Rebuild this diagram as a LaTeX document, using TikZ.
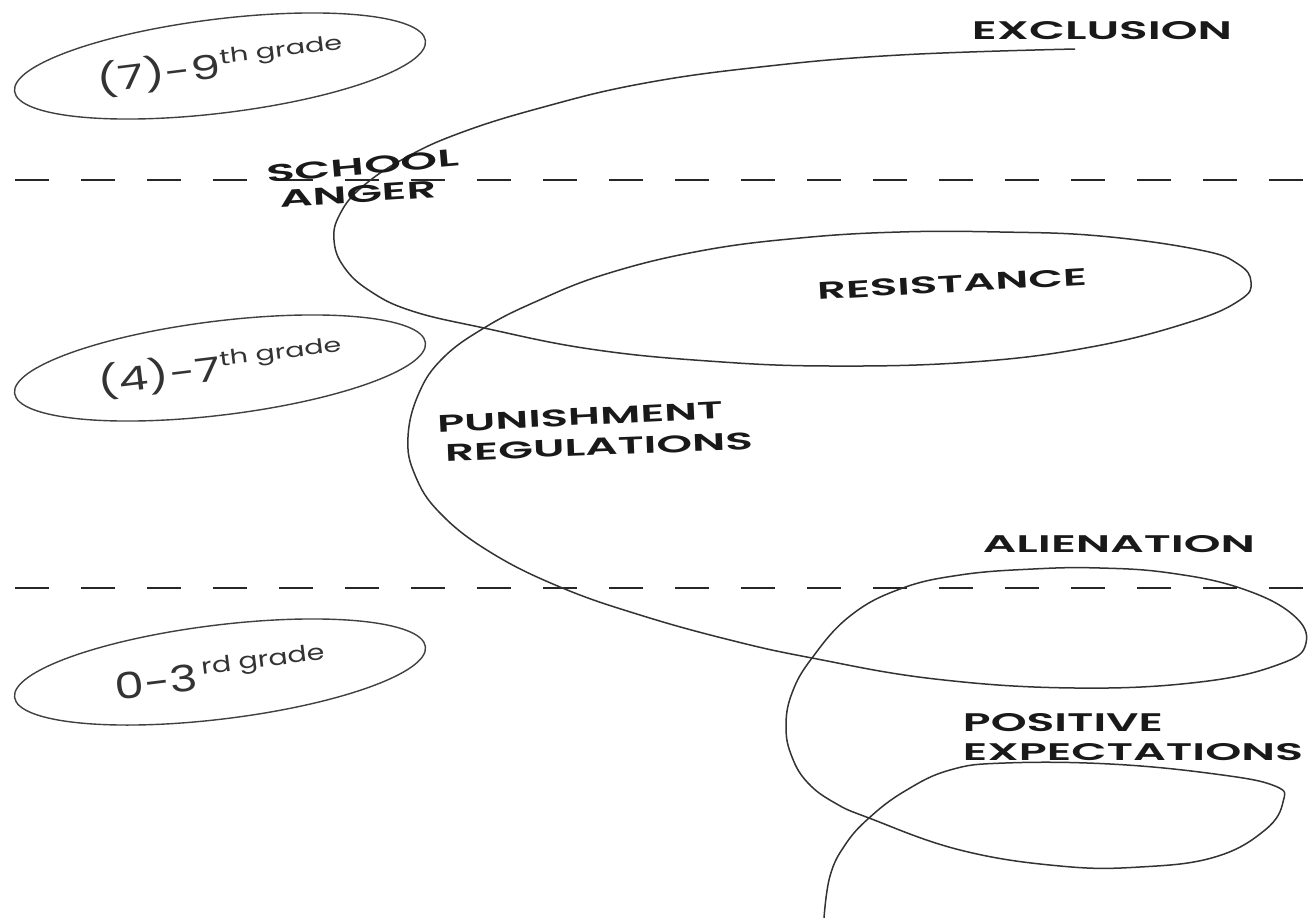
\documentclass[tikz,border=0pt]{standalone}
\usepackage{fontspec}
\setmainfont{Poppins}
\newfontfamily\gradefont{Poppins}
\newfontfamily\capfont{Poppins SemiBold}
\usetikzlibrary{shapes.geometric}
\newcommand\caplab[3]{\resizebox{#1pt}{#2pt}{\capfont #3}}
\newcommand\gradelab[4]{\resizebox{#1pt}{#2pt}{\gradefont\fontsize{28}{28}\selectfont #3\raisebox{12pt}{\fontsize{17}{17}\selectfont #4}}}
\tikzset{
  lab/.style={inner sep=0pt, text=black!90},
  gradeell/.style={draw=black!75, line width=1.4pt, ellipse, minimum width=414pt, minimum height=94pt, inner sep=0pt, rotate=7, text=black!80},
  dashline/.style={line width=2.6pt, dash pattern=on 34pt off 32pt, draw=black!85},
  loopline/.style={line width=1.5pt, draw=black!80, line join=round},
}
\begin{document}
\begin{tikzpicture}[x=1pt,y=-1pt]
\useasboundingbox[fill=white] (0,0) rectangle (1309,918);

% grade ellipses with their labels
\node[gradeell] (g9) at (220,66) {\raisebox{-3pt}{\gradelab{248}{31}{(7)-9}{th grade}}};
\node[gradeell] (g7) at (220,368) {\raisebox{-3pt}{\gradelab{246}{31}{(4)-7}{th grade}}};
\node[gradeell] (g3) at (220,672) {\raisebox{-3pt}{\gradelab{212}{32}{0-3}{\,rd grade}}};

% dashed separators
\coordinate (d1a) at (15,180);
\coordinate (d1b) at (1309,180);
\coordinate (d2a) at (15,588);
\coordinate (d2b) at (1309,588);
\draw[dashline] (d1a) -- (d1b);
\draw[dashline] (d2a) -- (d2b);

% the looping line
\draw[loopline] plot[smooth, tension=0.7] coordinates {
(1075,49) (900,55) (760,67) (640,84) (540,108) (460,133) (405,158)
(362,187) (340,214) (334,240) (344,267) (370,291) (412,311) (484,328) (590,349)
(708,361) (830,366) (972,362) (1091,347) (1190,322) (1240,300) (1251,282)
(1238,264) (1200,250) (1100,236) (1000,232) (900,232) (800,238) (700,251)
(606,274) (535,302) (484,328) (443,358) (419,393) (408,437) (415,475) (440,513)
(490,552) (560,587) (640,615) (730,640) (812,658) (935,679) (1075,688) (1200,682)
(1280,664) (1306,643) (1292,614) (1240,588) (1170,573) (1100,568) (1033,569)
(960,575) (900,589) (850,616) (812,658) (792,693) (786,727) (792,757) (808,783)
(835,803) (869,818) (960,850) (1060,866) (1140,867) (1215,857) (1265,830) (1283,802)
(1275,786) (1215,774) (1110,764) (1005,763) (950,770) (905,791) (869,818)
(845,845) (830,876) (824,918)};

% labels
\node[lab] (excl) at (1102,31) {\caplab{260}{18}{EXCLUSION}};
\node[lab, rotate=5] (school) at (363,166) {\caplab{193}{17}{SCHOOL}};
\node[lab, rotate=3.6] (anger) at (358,194) {\caplab{157}{17}{ANGER}};
\node[lab, rotate=3.2] (resist) at (952,284) {\caplab{270}{17}{RESISTANCE}};
\node[lab, rotate=2.8] (pun) at (580,417) {\caplab{286}{17}{PUNISHMENT}};
\node[lab, rotate=2.2] (reg) at (599,447) {\caplab{308}{17}{REGULATIONS}};
\node[lab] (alien) at (1119,544) {\caplab{272}{17}{ALIENATION}};
\node[lab] (pos) at (1063,723) {\caplab{200}{18}{POSITIVE}};
\node[lab] (expect) at (1133,752) {\caplab{340}{17}{EXPECTATIONS}};
\end{tikzpicture}
\end{document}
